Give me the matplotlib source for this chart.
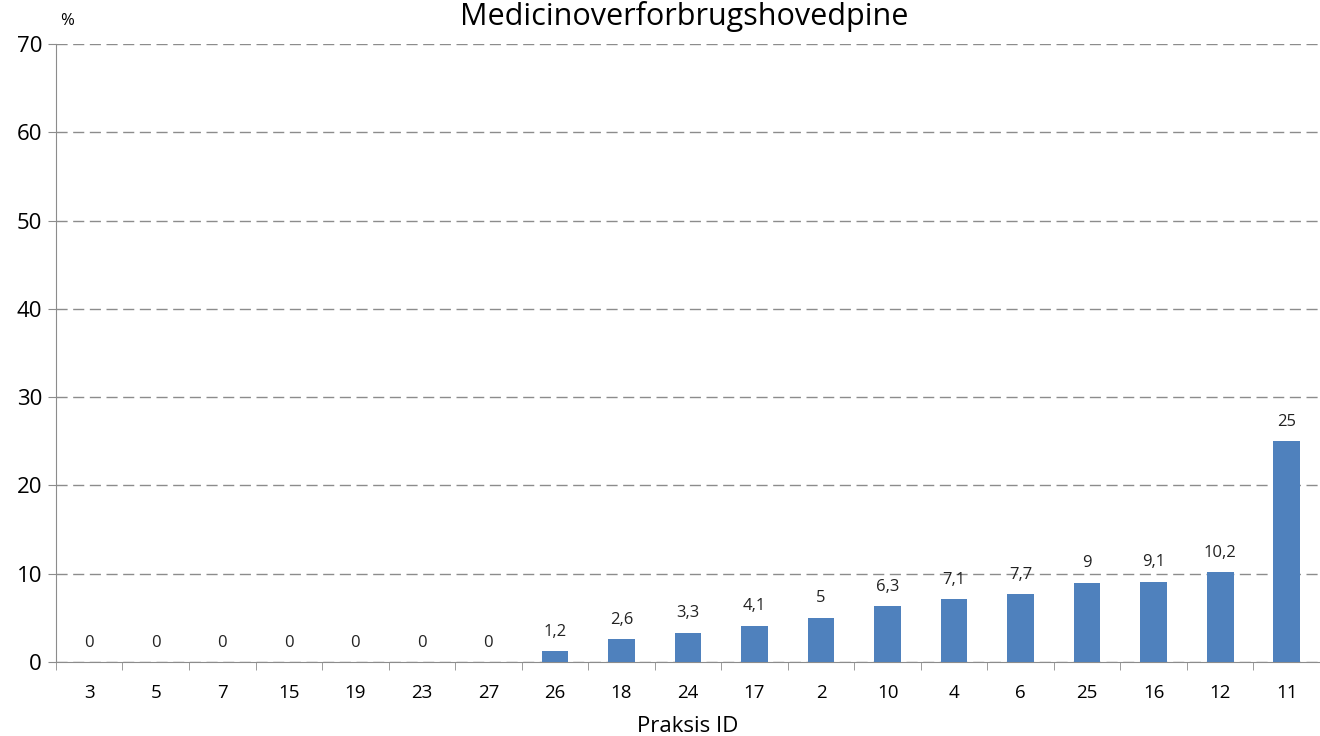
import matplotlib
matplotlib.use('Agg')
import matplotlib.pyplot as plt
import numpy as np

plt.rcParams['font.family'] = ['Open Sans', 'DejaVu Sans']

praksis = ['3', '5', '7', '15', '19', '23', '27', '26', '18', '24', '17',
           '2', '10', '4', '6', '25', '16', '12', '11']
andel = [0, 0, 0, 0, 0, 0, 0, 1.2, 2.6, 3.3, 4.1, 5, 6.3, 7.1, 7.7, 9, 9.1, 10.2, 25]

farve = '#4F81BD'
graa = '#8C8C8C'

fig = plt.figure(figsize=(13.2, 7.36), dpi=100)
ax = fig.add_axes([0.0424, 0.1005, 0.9576, 0.8395])

x = np.arange(len(praksis))
ax.bar(x, andel, width=0.4, color=farve, zorder=3)

for xi, v in zip(x, andel):
    tekst = ('%g' % v).replace('.', ',')
    ax.text(xi, v + 1.3, tekst, ha='center', va='bottom', fontsize=12, color='#222222')

ax.set_xlim(-0.5, len(praksis) - 0.5)
ax.set_ylim(0, 70)
ax.set_yticks(range(0, 71, 10))
ax.tick_params(axis='y', labelsize=16, length=6, color=graa, pad=4)
ax.set_xticks(x)
ax.set_xticklabels(praksis)
ax.set_xticks(np.arange(-0.5, len(praksis)), minor=True)
ax.tick_params(axis='x', which='major', length=0, labelsize=13.5, pad=16)
ax.tick_params(axis='x', which='minor', length=6, color=graa)

ax.yaxis.grid(True, linestyle=(0, (8, 4)), color=graa, linewidth=1.0, zorder=0)
for s in ['top', 'right']:
    ax.spines[s].set_visible(False)
for s in ['left', 'bottom']:
    ax.spines[s].set_color(graa)

ax.set_xlabel('Praksis ID', fontsize=16, labelpad=10)
fig.text(0.051, 0.972, '%', fontsize=12, ha='center', va='center')
fig.text(0.518, 0.978, 'Medicinoverforbrugshovedpine', fontsize=22, ha='center', va='center')

fig.savefig('out.png', dpi=100)
